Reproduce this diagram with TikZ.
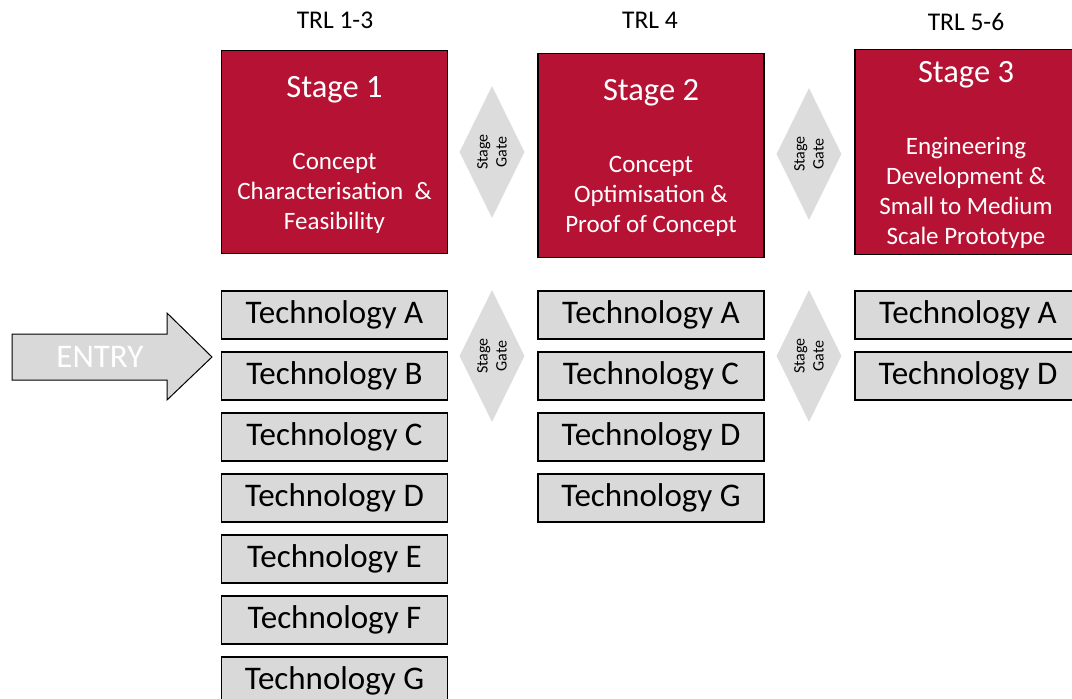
\documentclass[tikz,border=0pt]{standalone}
\usepackage{fontspec}
\setmainfont{Carlito}
\usetikzlibrary{shapes.geometric}

\definecolor{stagered}{RGB}{182,19,52}
\definecolor{techgray}{RGB}{217,217,217}
\definecolor{gategray}{RGB}{220,220,220}

\begin{document}
\begin{tikzpicture}[x=1pt,y=-1pt,
   stage/.style={draw=black,line width=1.6pt,fill=stagered,minimum width=226pt,inner sep=0pt},
   stagetitle/.style={text=white,font=\fontsize{32.5}{32.5}\selectfont},
   stagetext/.style={text=white,align=center,font=\fontsize{25}{30}\selectfont},
   tech/.style={draw=black,line width=1.8pt,fill=techgray,minimum width=226pt,minimum height=48pt,inner sep=0pt,font=\fontsize{33}{33}\selectfont},
   gate/.style={shape=diamond,fill=gategray,minimum width=132pt,minimum height=61pt,inner sep=0pt,rotate=90,align=center,font=\fontsize{16}{19}\selectfont},
   trl/.style={font=\fontsize{25.5}{25.5}\selectfont}]
   \useasboundingbox (0,0) rectangle (1072,699);

   % readiness levels
   \path (335,20) node[trl] (L1) {TRL 1-3};
   \path (650,20) node[trl] (L2) {TRL 4};
   \path (966,22) node[trl] (L3) {TRL 5-6};

   % stages
   \path (334.5,152) node[stage,minimum height=203pt] (S1) {};
   \path (334.5,90) node[stagetitle] (S1title) {Stage 1};
   \path (334.5,193) node[stagetext] (S1text) {Concept\\Characterisation \ \&\\Feasibility};

   \path (651,155.5) node[stage,minimum height=204pt] (S2) {};
   \path (651,93) node[stagetitle] (S2title) {Stage 2};
   \path (651,196) node[stagetext] (S2text) {Concept\\Optimisation \&\\Proof of Concept};

   \path (968,152) node[stage,minimum height=205pt] (S3) {};
   \path (966,75) node[stagetitle] (S3title) {Stage 3};
   \path (966,193) node[stagetext] (S3text) {Engineering\\Development \&\\Small to Medium\\Scale Prototype};

   % gates between the stages
   \path (492,152) node[gate] (G1top) {Stage\\Gate};
   \path (492,356) node[gate] (G1bot) {Stage\\Gate};
   \path (809,154) node[gate] (G2top) {Stage\\Gate};
   \path (809,356) node[gate] (G2bot) {Stage\\Gate};

   % technologies carried through each stage
   \foreach \t [count=\i] in {A,B,C,D,E,F,G}
      \path (334.5,254+61*\i) node[tech] (T1\t) {Technology \t};
   \foreach \t [count=\i] in {A,C,D,G}
      \path (651,254+61*\i) node[tech] (T2\t) {Technology \t};
   \foreach \t [count=\i] in {A,D}
      \path (968,254+61*\i) node[tech] (T3\t) {Technology \t};

   % entry arrow
   \draw[line width=1pt,fill=techgray] (12,334) -- (167,334) -- (167,313) -- (212,357)
      -- (167,400) -- (167,380) -- (12,380) -- cycle;
   \path (100,357) node[text=white,font=\fontsize{33}{33}\selectfont] (entry) {ENTRY};
\end{tikzpicture}
\end{document}
